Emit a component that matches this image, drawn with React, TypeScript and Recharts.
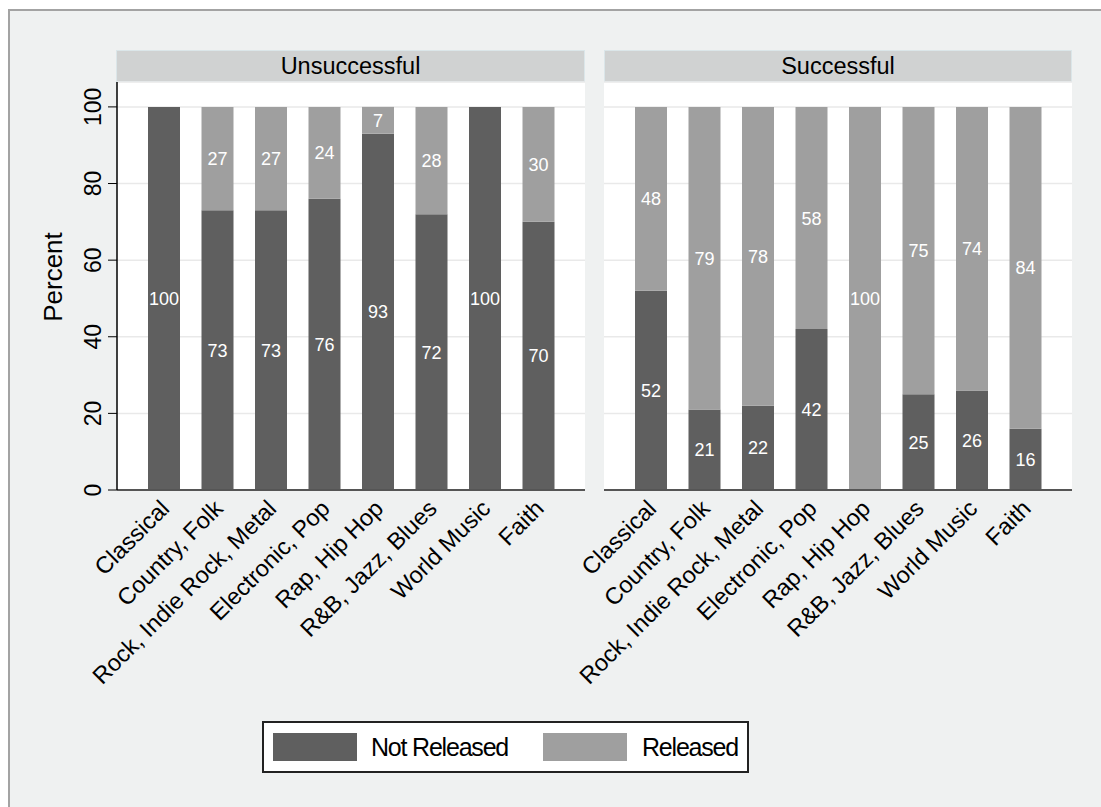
import { BarChart, Bar, XAxis, YAxis, CartesianGrid, LabelList } from 'recharts';

const genres = [
  'Classical',
  'Country, Folk',
  'Rock, Indie Rock, Metal',
  'Electronic, Pop',
  'Rap, Hip Hop',
  'R&B, Jazz, Blues',
  'World Music',
  'Faith',
];

const unsuccessfulNotReleased = [100, 73, 73, 76, 93, 72, 100, 70];
const unsuccessfulReleased = [0, 27, 27, 24, 7, 28, 0, 30];
const successfulNotReleased = [52, 21, 22, 42, 0, 25, 26, 16];
const successfulReleased = [48, 79, 78, 58, 100, 75, 74, 84];

const yTicks = [0, 20, 40, 60, 80, 100];

const FONT = '"Liberation Sans", Arial, Helvetica, sans-serif';
const DARK = '#5f5f5f';
const LIGHT = '#9f9f9f';

const unsuccessfulData = genres.map((g, i) => ({
  genre: g,
  notReleased: unsuccessfulNotReleased[i],
  released: unsuccessfulReleased[i],
}));

const successfulData = genres.map((g, i) => ({
  genre: g,
  notReleased: successfulNotReleased[i],
  released: successfulReleased[i],
}));

const XTick = (props: any) => {
  const { x, y, payload } = props;
  const tx = x + 7;
  const ty = y + 12;
  return (
    <text
      x={tx}
      y={ty}
      textAnchor="end"
      fontSize={23.5}
      fontFamily={FONT}
      fill="#000"
      transform={`rotate(-45, ${tx}, ${ty})`}
    >
      {payload.value}
    </text>
  );
};

const YTick = (props: any) => {
  const { x, y, payload } = props;
  const tx = x - 5;
  return (
    <text
      x={tx}
      y={y}
      textAnchor="middle"
      fontSize={23}
      fontFamily={FONT}
      fill="#000"
      transform={`rotate(-90, ${tx}, ${y})`}
    >
      {payload.value}
    </text>
  );
};

const ValueLabel = (props: any) => {
  const { x, y, width, height, value } = props;
  if (!value) return null;
  return (
    <text
      x={x + width / 2}
      y={y + height / 2}
      dy={6.5}
      textAnchor="middle"
      fontSize={18}
      fontFamily={FONT}
      fill="#fff"
    >
      {value}
    </text>
  );
};

const Panel = ({ data, showY }: { data: any[]; showY: boolean }) => (
  <BarChart
    width={showY ? 600 : 530}
    height={760}
    data={data}
    margin={{ top: 82, right: showY ? 15 : 18, left: showY ? 67 : 44, bottom: 70 }}
    barSize={32}
  >
    <CartesianGrid vertical={false} stroke="#e9e9e9" strokeWidth={1.5} fill="#fff" />
    <XAxis
      dataKey="genre"
      interval={0}
      height={200}
      tickLine={false}
      axisLine={{ stroke: '#555', strokeWidth: 2 }}
      padding={{ left: 20, right: 20 }}
      tick={<XTick />}
    />
    <YAxis
      hide={!showY}
      width={50}
      domain={[0, 106.5]}
      ticks={yTicks}
      interval={0}
      tickSize={9}
      tickLine={{ stroke: '#000' }}
      axisLine={{ stroke: '#000', strokeWidth: 1.5 }}
      tick={<YTick />}
    />
    <Bar dataKey="notReleased" stackId="a" fill={DARK} isAnimationActive={false}>
      <LabelList dataKey="notReleased" content={<ValueLabel />} />
    </Bar>
    <Bar dataKey="released" stackId="a" fill={LIGHT} isAnimationActive={false}>
      <LabelList dataKey="released" content={<ValueLabel />} />
    </Bar>
  </BarChart>
);

const headerStyle = (left: number, width: number): React.CSSProperties => ({
  position: 'absolute',
  left,
  top: 50,
  width,
  height: 32,
  boxSizing: 'border-box',
  background: '#d0d2d2',
  border: '1px solid #dbe6e9',
  fontFamily: FONT,
  fontSize: 23.5,
  lineHeight: '31px',
  textAlign: 'center',
  color: '#000',
});

export default function App() {
  return (
    <div
      style={{
        position: 'absolute',
        left: 0,
        top: 0,
        width: 1101,
        height: 807,
        overflow: 'hidden',
        background: '#fff',
      }}
    >
      <div
        style={{
          position: 'absolute',
          left: 8,
          top: 9,
          width: 1200,
          height: 900,
          background: '#eff1f1',
          borderTop: '2px solid #a3a3a3',
          borderLeft: '2px solid #a3a3a3',
        }}
      />
      <div style={headerStyle(116, 469)}>Unsuccessful</div>
      <div style={headerStyle(604, 468)}>Successful</div>
      <div style={{ position: 'absolute', left: 0, top: 0 }}>
        <Panel data={unsuccessfulData} showY={true} />
      </div>
      <div style={{ position: 'absolute', left: 560, top: 0 }}>
        <Panel data={successfulData} showY={false} />
      </div>
      <svg
        style={{ position: 'absolute', left: 0, top: 0 }}
        width={100}
        height={500}
      >
        <text
          x={62}
          y={277}
          textAnchor="middle"
          fontSize={26}
          fontFamily={FONT}
          fill="#000"
          transform="rotate(-90, 62, 277)"
        >
          Percent
        </text>
      </svg>
      <div
        style={{
          position: 'absolute',
          left: 262,
          top: 721,
          width: 487,
          height: 52,
          boxSizing: 'border-box',
          background: '#fff',
          border: '2px solid #222',
          fontFamily: FONT,
          fontSize: 25,
          letterSpacing: '-1.2px',
          color: '#000',
        }}
      >
        <div style={{ position: 'absolute', left: 9, top: 10, width: 84, height: 28, background: DARK }} />
        <div style={{ position: 'absolute', left: 107, top: 9, lineHeight: '30px' }}>Not Released</div>
        <div style={{ position: 'absolute', left: 279, top: 10, width: 84, height: 28, background: LIGHT }} />
        <div style={{ position: 'absolute', left: 378, top: 9, lineHeight: '30px' }}>Released</div>
      </div>
    </div>
  );
}
